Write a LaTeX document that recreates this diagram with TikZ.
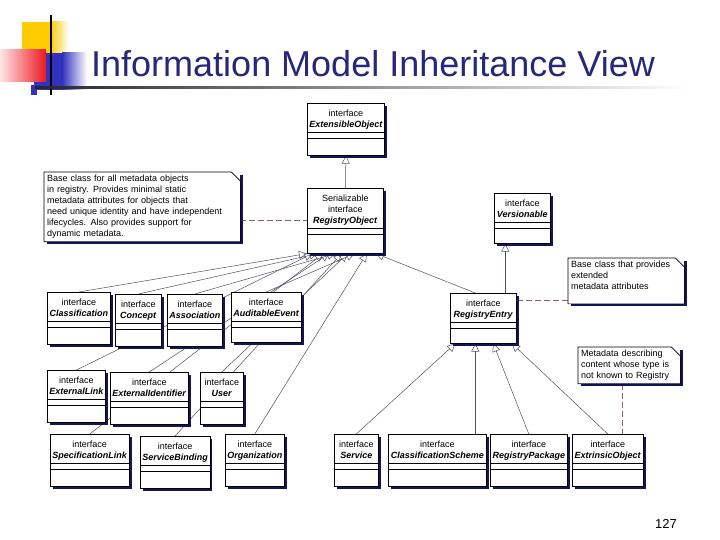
\documentclass[tikz,border=0pt]{standalone}
\usepackage{fontspec}
\setmainfont{Liberation Sans}
\usepackage{tikz}
\usetikzlibrary{
  arrows.meta,
  positioning,
  calc,
  shadows,
  backgrounds
}
\definecolor{titleblue}{RGB}{40,40,120}
\definecolor{logoyellow}{RGB}{255,204,0}
\definecolor{logored}{RGB}{235,25,35}
\definecolor{logoblue}{RGB}{50,50,190}
\definecolor{shadowblue}{RGB}{20,20,90}
\definecolor{linegray}{RGB}{80,80,100}
\definecolor{linkmauve}{RGB}{150,90,125}
\tikzset{
  classbox/.style={draw, fill=white, line width=0.6pt,
    anchor=north west, inner xsep=2pt, inner ysep=3pt,
    font=\fontsize{9}{11}\selectfont, text depth=36pt,
    drop shadow={fill=shadowblue, opacity=1, shadow xshift=2.5pt, shadow yshift=-2.5pt},
    path picture={
      \draw[line width=0.6pt]
        ([yshift=-#1]path picture bounding box.north west)
          -- ([yshift=-#1]path picture bounding box.north east)
        ([yshift=-#1-6pt]path picture bounding box.north west)
          -- ([yshift=-#1-6pt]path picture bounding box.north east);
    }},
  classbox/.default=29pt,
  notebox/.style={fill=white, anchor=north west, inner sep=3pt, align=left,
    font=\fontsize{9}{11}\selectfont,
    drop shadow={fill=shadowblue, opacity=1, shadow xshift=2.5pt, shadow yshift=-2.5pt}},
  noteline/.style={draw, line width=0.6pt},
  inherit/.style={draw=linegray, line width=0.5pt,
    -{Triangle[open, length=8pt, width=8pt]}},
  notelink/.style={draw=linkmauve, line width=0.7pt, dash pattern=on 6pt off 3pt},
}
\newcommand{\iface}[2][]{%
  \begin{tabular}[t]{@{}c@{}}\rule{0pt}{10pt}#1interface\\\textbf{\textit{#2}}\end{tabular}}

\begin{document}
\begin{tikzpicture}[x=1pt, y=-1pt]
  \useasboundingbox (0,0) rectangle (720,540);

  % Logo
  \fill[logoyellow] (22,22) rectangle (50,53);
  \shade[left color=logoyellow, right color=white] (50,22) rectangle (69,53);
  \fill[logoblue] (34,53) rectangle (62,90);
  \shade[left color=logoblue, right color=white] (62,53) rectangle (87,90);
  \shade[left color=red!10, right color=logored] (0,50) rectangle (46,82);
  \fill[logoblue] (31,85) rectangle (37,95);
  \fill[black] (49.5,15) rectangle (52,95);
  \shade[left color=black!85, right color=white] (35,86.5) rectangle (690,89);

  % Title and page number
  \node[anchor=base west, inner sep=0pt, text=titleblue,
        font=\fontsize{36}{40}\selectfont] (title) at (91,77)
    {Information Model Inheritance View};
  \node[anchor=base west, inner sep=0pt, font=\fontsize{13}{15}\selectfont]
    (pagenum) at (655,528) {127};

  % Top of the hierarchy
  \node[classbox, minimum width=76pt] (eo) at (307,103) {\iface{ExtensibleObject}};
  \node[classbox=40pt, minimum width=76pt, text depth=49pt] (ro) at (307,188)
    {\iface[Serializable\\]{RegistryObject}};
  \node[classbox, minimum width=56pt, text depth=34pt] (ve) at (494,193) {\iface{Versionable}};
  \node[classbox, minimum width=66pt, text depth=34pt] (re) at (450,293) {\iface{RegistryEntry}};

  % Row 1
  \node[classbox, minimum width=63pt] (cl) at (47,292) {\iface{Classification}};
  \node[classbox, minimum width=46pt] (co) at (115,294) {\iface{Concept}};
  \node[classbox, minimum width=55pt] (as) at (167,294) {\iface{Association}};
  \node[classbox, minimum width=69pt, text depth=34pt] (ae) at (231,292) {\iface{AuditableEvent}};

  % Row 2
  \node[classbox, minimum width=57pt] (el) at (47,370) {\iface{ExternalLink}};
  \node[classbox, minimum width=77pt] (ei) at (110,372) {\iface{ExternalIdentifier}};
  \node[classbox, minimum width=43pt] (us) at (200,372) {\iface{User}};

  % Row 3
  \node[classbox, minimum width=78pt] (sl) at (50,434) {\iface{SpecificationLink}};
  \node[classbox, minimum width=68pt] (sb) at (140,436) {\iface{ServiceBinding}};
  \node[classbox, minimum width=59pt] (org) at (225,434) {\iface{Organization}};
  \node[classbox, minimum width=44pt] (se) at (334,434) {\iface{Service}};
  \node[classbox, minimum width=98pt] (cs) at (388,434) {\iface{ClassificationScheme}};
  \node[classbox, minimum width=77pt] (rp) at (490,434) {\iface{RegistryPackage}};
  \node[classbox, minimum width=71pt] (ex) at (572,434) {\iface{ExtrinsicObject}};

  % Notes
  \node[notebox, text width=190pt] (n1) at (44,172) {
    Base class for all metadata objects\\
    in registry. Provides minimal static\\
    metadata attributes for objects that\\
    need unique identity and have independent\\
    lifecycles. Also provides support for\\
    dynamic metadata.};
  \node[notebox, text width=110pt] (n2) at (568,258) {
    Base class that provides\\
    extended\\
    metadata attributes\\
    ~};
  \node[notebox, text width=96pt] (n3) at (578,347) {
    Metadata describing\\
    content whose type is\\
    not known to Registry};
  \foreach \n in {n1, n2, n3} {
    \draw[noteline] (\n.north west) -- ([xshift=-9pt]\n.north east)
      -- ([yshift=-9pt]\n.north east) -- (\n.south east)
      -- (\n.south west) -- cycle;
  }

  % Connectors, behind the boxes
  \begin{scope}[on background layer]
    \draw[inherit] (ro.north) -- (eo.south);
    \coordinate (veup) at ([xshift=22pt]re.north);
    \draw[inherit] (veup) -- (veup |- ve.south);
    \draw[inherit] ([xshift=-8pt]re.north) -- ($(ro.south west)!0.9!(ro.south east)$);
    \foreach \c/\f in {cl/0.0, el/0.07, co/0.14, sl/0.21, ei/0.29,
                       as/0.37, sb/0.45, us/0.53, ae/0.62, org/0.78}
      \draw[inherit] (\c.north) -- ($(ro.south west)!\f!(ro.south east)$);
    \coordinate (csup) at ($(re.south west)!0.38!(re.south east)$);
    \draw[inherit] (csup |- cs.north) -- (csup);
    \foreach \c/\f in {se/0.08, rp/0.65, ex/0.93}
      \draw[inherit] (\c.north) -- ($(re.south west)!\f!(re.south east)$);
    % note links
    \draw[notelink] (n1.east |- ro.west) -- (ro.west);
    \coordinate (redash) at ([yshift=-7pt]re.north east);
    \draw[notelink] (redash) -- (redash -| n2.west);
    \coordinate (exdash) at ([xshift=-7pt]n3.south);
    \draw[notelink] (exdash) -- (exdash |- ex.north);
  \end{scope}
\end{tikzpicture}
\end{document}
